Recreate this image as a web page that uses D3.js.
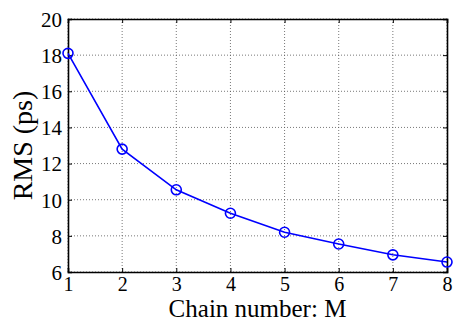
<!DOCTYPE html>
<html>
<head>
<meta charset="utf-8">
<script src="https://cdn.jsdelivr.net/npm/d3@7.9.0/dist/d3.min.js"></script>
<style>
  body { margin: 0; background: #fff; }
  svg { display: block; }
</style>
</head>
<body>
<svg id="chart" width="453" height="323"></svg>
<script>
// Data
const chainNumbers = [1, 2, 3, 4, 5, 6, 7, 8];
const rmsValues = [18.1, 12.8, 10.55, 9.25, 8.2, 7.55, 6.95, 6.55];
const xTicks = [1, 2, 3, 4, 5, 6, 7, 8];
const yTicks = [6, 8, 10, 12, 14, 16, 18, 20];

const serif = '"Liberation Serif", "Times New Roman", serif';
const margin = { left: 68, right: 6, top: 19, bottom: 51 };
const width = 453, height = 323;

const svg = d3.select('#chart');

const x = d3.scaleLinear().domain([1, 8]).range([margin.left, width - margin.right]);
const y = d3.scaleLinear().domain([6, 20]).range([height - margin.bottom, margin.top]);

// Grid
const grid = svg.append('g');
grid.selectAll('.vg')
  .data(xTicks)
  .join('line')
  .attr('x1', d => x(d)).attr('x2', d => x(d))
  .attr('y1', y(6)).attr('y2', y(20))
  .attr('stroke', '#555')
  .attr('stroke-width', 0.8)
  .attr('stroke-dasharray', '1,2');
grid.selectAll('.hg')
  .data(yTicks)
  .join('line')
  .attr('x1', x(1)).attr('x2', x(8))
  .attr('y1', d => y(d)).attr('y2', d => y(d))
  .attr('stroke', '#555')
  .attr('stroke-width', 0.8)
  .attr('stroke-dasharray', '1,2');

// Axes (ticks inward, mirrored on top/right)
const fmt = d3.format('d');
const bottomAxis = svg.append('g')
  .attr('transform', `translate(0,${y(6)})`)
  .call(d3.axisBottom(x).tickValues(xTicks).tickFormat(fmt).tickSize(-4).tickPadding(5));
const leftAxis = svg.append('g')
  .attr('transform', `translate(${x(1)},0)`)
  .call(d3.axisLeft(y).tickValues(yTicks).tickFormat(fmt).tickSize(-4).tickPadding(6));
const topAxis = svg.append('g')
  .attr('transform', `translate(0,${y(20)})`)
  .call(d3.axisTop(x).tickValues(xTicks).tickSize(-4).tickFormat(''));
const rightAxis = svg.append('g')
  .attr('transform', `translate(${x(8)},0)`)
  .call(d3.axisRight(y).tickValues(yTicks).tickSize(-4).tickFormat(''));

[bottomAxis, leftAxis, topAxis, rightAxis].forEach(a => {
  a.attr('font-family', serif).attr('font-size', 21);
  a.select('.domain').attr('stroke', '#000').attr('stroke-width', 1.6);
  a.selectAll('.tick line').attr('stroke', '#000').attr('stroke-width', 1);
  a.selectAll('.tick text')
    .attr('fill', '#000')
    .style('font-family', serif)
    .style('font-size', '21px');
});
bottomAxis.selectAll('.tick text').attr('dy', '0.71em').style('font-size', '20px');
leftAxis.selectAll('.tick text').attr('dy', '0.35em');

// Line and markers
const pts = chainNumbers.map((c, i) => ({ c, v: rmsValues[i] }));
svg.append('path')
  .datum(pts)
  .attr('fill', 'none')
  .attr('stroke', '#0000ff')
  .attr('stroke-width', 1.6)
  .attr('d', d3.line().x(d => x(d.c)).y(d => y(d.v)));

svg.selectAll('.marker')
  .data(pts)
  .join('circle')
  .attr('cx', d => x(d.c))
  .attr('cy', d => y(d.v))
  .attr('r', 5)
  .attr('fill', 'none')
  .attr('stroke', '#0000ff')
  .attr('stroke-width', 1.6);

// Axis titles
svg.append('text')
  .attr('x', (x(1) + x(8)) / 2)
  .attr('y', 317)
  .attr('text-anchor', 'middle')
  .style('font-family', serif)
  .style('font-size', '25px')
  .text('Chain number: M');

svg.append('text')
  .attr('transform', `translate(32,${(y(6) + y(20)) / 2}) rotate(-90)`)
  .attr('text-anchor', 'middle')
  .style('font-family', serif)
  .style('font-size', '28px')
  .text('RMS (ps)');
</script>
</body>
</html>
